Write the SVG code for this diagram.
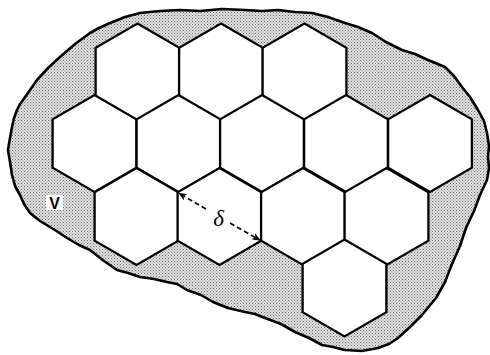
<svg xmlns="http://www.w3.org/2000/svg" xmlns:xlink="http://www.w3.org/1999/xlink" width="490" height="355" viewBox="0 0 490 355">
<defs>
<pattern id="stip" width="3" height="3" patternUnits="userSpaceOnUse">
<rect width="3" height="3" fill="#dedede"/>
<rect x="0" y="0" width="1" height="1" fill="#707070"/>
<rect x="1.5" y="1.5" width="1" height="1" fill="#959595"/>
</pattern>
<polygon id="hex" points="0,-48.4 41.9,-24.2 41.9,24.2 0,48.4 -41.9,24.2 -41.9,-24.2"/>
<marker id="ah" viewBox="0 0 10 10" refX="9.5" refY="5" markerWidth="9" markerHeight="9" orient="auto-start-reverse" markerUnits="userSpaceOnUse">
<path d="M0,1 L10,5 L0,9 L3,5 Z" fill="#000"/>
</marker>
</defs>
<style>
.hex{fill:#fff;stroke:#000;stroke-width:2.3;stroke-linejoin:miter}
.blob{fill:url(#stip);stroke:#000;stroke-width:2.6;stroke-linejoin:round}
.lbl{font-family:"Liberation Sans",Arial,sans-serif;font-weight:bold;font-size:16px;fill:#000}
.greek{font-family:"Liberation Serif","DejaVu Serif",serif;font-style:italic;font-size:23px;fill:#000}
.dim{stroke:#000;stroke-width:1.6;stroke-dasharray:5,3;fill:none}
</style>
<g id="region">
<path class="blob" d="M245,10 L262,11 L278,10 L295,12 L312,13 L328,17 L345,23 L358,27 L372,33 L386,42 L402,50 L415,54 L428,60 L445,67 L454,76 L462,87 L470,97 L478,110 L484,121 L487,133 L489,146 L488,157 L489,168 L487,180 L480,195 L474,211 L466,228 L460,246 L452,264 L445,282 L436,298 L422,315 L410,327 L398,338 L389,344 L378,348 L362,351 L345,350 L333,347 L322,345 L309,338 L295,332 L281,324 L265,318 L255,314 L245,312 L228,308 L213,302 L201,295 L187,290 L177,284 L167,282 L154,279 L140,277 L128,273 L117,270 L104,261 L90,250 L79,245 L67,238 L58,232 L50,227 L40,221 L30,213 L24,204 L20,195 L15,186 L12,175 L10,162 L8,150 L10,138 L12,127 L14,118 L17,110 L20,104 L23,100 L30,90 L37,80 L48,68 L60,57 L75,44 L90,33 L99,28 L110,23 L125,17 L140,13 L160,11 L180,10 L200,11 L222,9 Z"/>
<rect x="46" y="195" width="17" height="15" fill="#fff"/>
<text class="lbl" x="54.5" y="208.5" text-anchor="middle">V</text>
</g>
<g id="hex-r1c1"><use xlink:href="#hex" class="hex" x="137.5" y="72"/></g>
<g id="hex-r1c2"><use xlink:href="#hex" class="hex" x="221" y="72"/></g>
<g id="hex-r1c3"><use xlink:href="#hex" class="hex" x="304.5" y="72"/></g>
<g id="hex-r2c1"><use xlink:href="#hex" class="hex" x="94.5" y="143.5"/></g>
<g id="hex-r2c2"><use xlink:href="#hex" class="hex" x="178.5" y="143.5"/></g>
<g id="hex-r2c3"><use xlink:href="#hex" class="hex" x="262" y="143.5"/></g>
<g id="hex-r2c4"><use xlink:href="#hex" class="hex" x="346" y="143.5"/></g>
<g id="hex-r2c5"><use xlink:href="#hex" class="hex" x="430" y="143.5"/></g>
<g id="hex-r3c1"><use xlink:href="#hex" class="hex" x="136.5" y="216.5"/></g>
<g id="hex-r3c2"><use xlink:href="#hex" class="hex" x="219.5" y="216.5"/></g>
<g id="hex-r3c3"><use xlink:href="#hex" class="hex" x="303" y="216.5"/></g>
<g id="hex-r3c4"><use xlink:href="#hex" class="hex" x="386.5" y="216.5"/></g>
<g id="hex-r4c1"><use xlink:href="#hex" class="hex" x="344.5" y="288"/></g>
<g id="connectors">
<line class="dim" x1="206" y1="209" x2="178.5" y2="193" marker-end="url(#ah)"/>
<line class="dim" x1="230" y1="223" x2="260.5" y2="240.5" marker-end="url(#ah)"/>
<text class="greek" x="218.5" y="225.5" text-anchor="middle">δ</text>
</g>
</svg>
